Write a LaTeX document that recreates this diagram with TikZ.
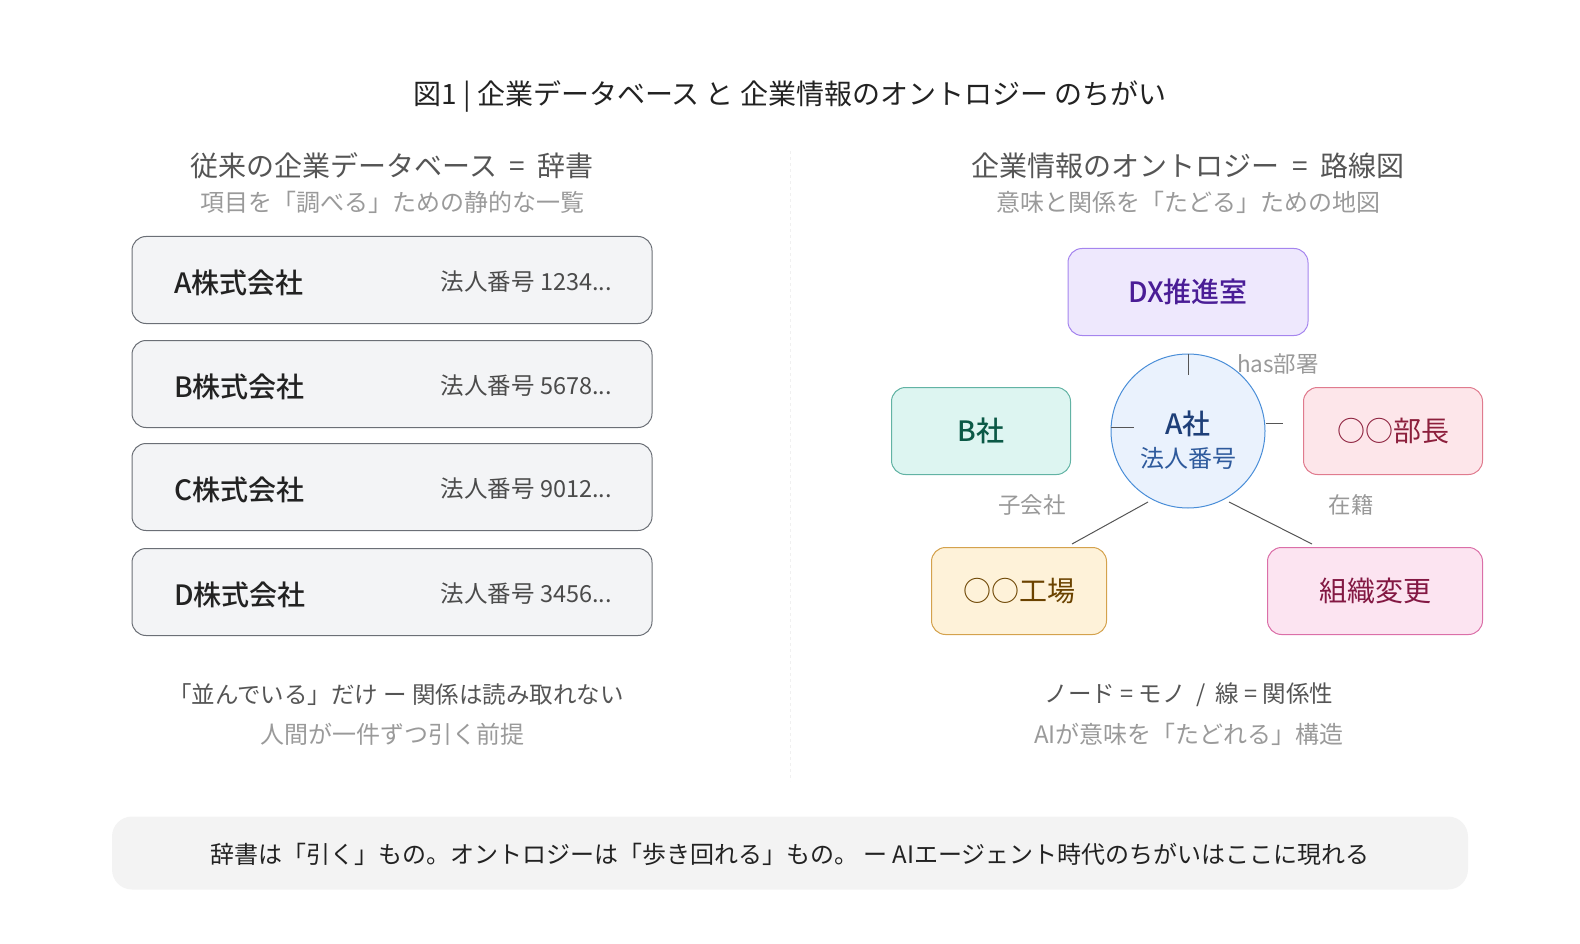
\documentclass[tikz,border=0pt]{standalone}
\usepackage{fontspec}
\setmainfont{Noto Sans CJK JP}
\IfFontExistsTF{Noto Sans CJK JP Medium}{\newfontfamily\medfont{Noto Sans CJK JP Medium}}{\newcommand\medfont{\bfseries}}
\definecolor{titlec}{HTML}{222222}
\definecolor{headc}{HTML}{555555}
\definecolor{subc}{HTML}{9A9A9A}
\definecolor{cardfill}{HTML}{F3F4F6}
\definecolor{carddraw}{HTML}{6B6F76}
\definecolor{cardtext}{HTML}{222222}
\definecolor{cardnum}{HTML}{4B4B4B}
\definecolor{edgec}{HTML}{555555}
\definecolor{labc}{HTML}{999999}
\definecolor{bannerc}{HTML}{F3F3F3}
\definecolor{dxf}{HTML}{EEE8FD}\definecolor{dxd}{HTML}{A585EE}\definecolor{dxt}{HTML}{4A1D96}
\definecolor{bf}{HTML}{DDF5F1}\definecolor{bd}{HTML}{62B3A4}\definecolor{bt}{HTML}{0B5946}
\definecolor{rf}{HTML}{FDE6EA}\definecolor{rd}{HTML}{E07B8E}\definecolor{rt}{HTML}{8C1F3C}
\definecolor{yf}{HTML}{FEF2D9}\definecolor{yd}{HTML}{D4A24D}\definecolor{yt}{HTML}{6B4300}
\definecolor{pf}{HTML}{FCE4F1}\definecolor{pd}{HTML}{DB6FA8}\definecolor{pt}{HTML}{831843}
\definecolor{cf}{HTML}{EAF2FD}\definecolor{cd}{HTML}{4A8ED8}\definecolor{ct}{HTML}{1E3F78}\definecolor{ct2}{HTML}{2E5A9C}
\tikzset{
  card/.style={draw=carddraw, fill=cardfill, line width=1pt, rounded corners=14pt, minimum width=520pt, minimum height=87pt, inner sep=0pt},
  gnode/.style={rounded corners=14pt, line width=1pt, minimum height=87pt, inner sep=0pt, font=\fontsize{28}{32}\selectfont\medfont},
  edge/.style={draw=edgec, line width=1pt},
  lab/.style={text=labc, font=\fontsize{22.5}{26}\selectfont},
  head/.style={text=headc, font=\fontsize{28}{32}\selectfont},
  sub/.style={text=subc, font=\fontsize{24}{28}\selectfont},
  note/.style={text=headc, font=\fontsize{23.5}{28}\selectfont},
}
\begin{document}
\begin{tikzpicture}[x=1pt,y=-1pt]
\useasboundingbox (0,0) rectangle (1580,944);
\node[text=titlec, font=\fontsize{28}{32}\selectfont] (title) at (790,96) {図1 | 企業データベース と 企業情報のオントロジー のちがい};
% divider
\draw[draw=black!6, line width=1pt, dashed] (790,151) coordinate (dtop) -- (790,781) coordinate (dbot);
% left
\node[head] (lh) at (392,166) {従来の企業データベース \ = \ 辞書};
\node[sub] (ls) at (392,202) {項目を「調べる」ための静的な一覧};
\foreach \n/\y/\num in {A/280/1234,B/384/5678,C/487/9012,D/592/3456}{
  \node[card] (card\n) at (392,\y) {};
  \node[anchor=west, text=cardtext, font=\fontsize{28}{32}\selectfont\medfont] (name\n) at ([xshift=39pt,yshift=-3pt]card\n.west) {\n 株式会社};
  \node[anchor=east, text=cardnum, font=\fontsize{23.5}{28}\selectfont] (num\n) at ([xshift=-37pt,yshift=-2pt]card\n.east) {法人番号 \num...};
}
\node[note] (ln1) at (396,695) {「並んでいる」だけ ー 関係は読み取れない};
\node[sub] (ln2) at (392,734) {人間が一件ずつ引く前提};
% right
\node[head] (rh) at (1188,166) {企業情報のオントロジー \ = \ 路線図};
\node[sub] (rs) at (1188,202) {意味と関係を「たどる」ための地図};
\node[gnode, draw=dxd, fill=dxf, text=dxt, minimum width=240pt] (dx) at (1188,292) {DX推進室};
\node[gnode, draw=bd, fill=bf, text=bt, minimum width=179pt] (bco) at (981,431) {B社};
\node[gnode, draw=rd, fill=rf, text=rt, minimum width=179pt, font=\fontsize{28}{32}\selectfont] (chief) at (1393,431) {○○部長};
\node[gnode, draw=yd, fill=yf, text=yt, minimum width=175pt, font=\fontsize{28}{32}\selectfont] (factory) at (1019,591) {○○工場};
\node[gnode, draw=pd, fill=pf, text=pt, minimum width=215pt, font=\fontsize{28}{32}\selectfont] (reorg) at (1375,591) {組織変更};
\node[circle, draw=cd, fill=cf, line width=1pt, minimum size=154pt, inner sep=0pt] (acore) at (1188,431) {};
\node[text=ct, font=\fontsize{28}{32}\selectfont\medfont] (aname) at (1188,424) {A社};
\node[text=ct2, font=\fontsize{24}{28}\selectfont] (anum) at (1188,458) {法人番号};
% connectors (short stubs as drawn)
\coordinate (t1) at (1188,375);
\coordinate (t2) at (1134,427);
\coordinate (t3) at (1283,423);
\coordinate (s4) at (1148,502);
\coordinate (e4) at (1072,544);
\coordinate (s5) at (1229,502);
\coordinate (e5) at (1312,544);
\draw[edge] (acore.north) -- (t1);
\draw[edge] (acore.west |- t2) -- (t2);
\draw[edge] (acore.east |- t3) -- (t3);
\draw[edge] (s4) -- (e4);
\draw[edge] (s5) -- (e5);
\node[lab] (l1) at (1278,364) {has部署};
\node[lab] (l2) at (1032,505) {子会社};
\node[lab] (l3) at (1351,505) {在籍};
\node[note] (rn1) at (1189,695) {ノード = モノ \ / \ 線 = 関係性};
\node[sub] (rn2) at (1189,734) {AIが意味を「たどれる」構造};
% banner
\node[fill=bannerc, rounded corners=20pt, minimum width=1356pt, minimum height=73pt, inner sep=0pt] (banner) at (790,853) {};
\node[text=titlec, font=\fontsize{24}{28}\selectfont] (btext) at ([yshift=-1pt]banner.center) {辞書は「引く」もの。オントロジーは「歩き回れる」もの。 ー AIエージェント時代のちがいはここに現れる};
\end{tikzpicture}
\end{document}
